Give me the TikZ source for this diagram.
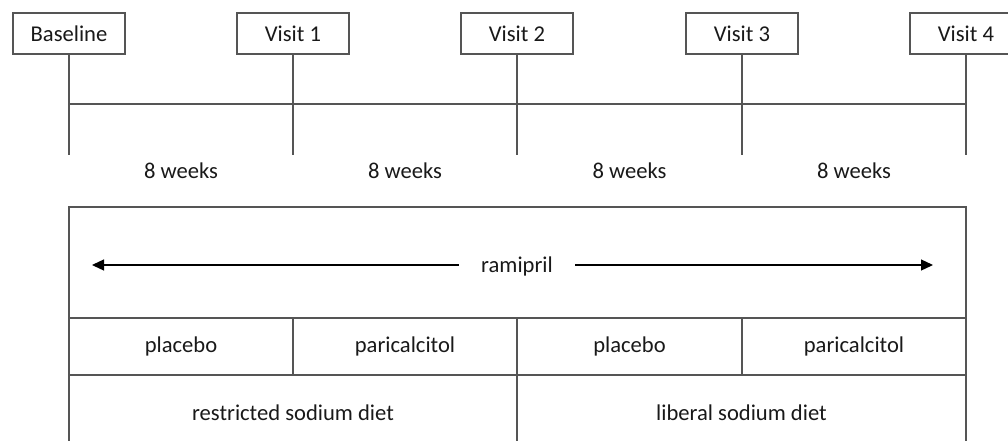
\documentclass[tikz,border=0pt]{standalone}
\usepackage{fontspec}
\setmainfont{Carlito}
\usepackage{tikz}
\usetikzlibrary{arrows.meta,positioning}
\definecolor{linegray}{RGB}{85,85,85}
\definecolor{textgray}{RGB}{25,25,25}
\tikzset{
    visitbox/.style={
        draw=linegray,
        line width=0.65pt,
        minimum width=56pt,
        minimum height=20.5pt,
        inner sep=0pt,
        text=textgray,
        font=\fontsize{11.3}{13}\selectfont
    },
    % cells of the treatment table
    cellbox/.style={
        draw=linegray,
        line width=0.65pt,
        inner sep=0pt,
        text=textgray,
        font=\fontsize{11.3}{13}\selectfont
    },
    timeline/.style={
        linegray,
        line width=0.65pt
    },
    ramiarrow/.style={
        line width=0.65pt,
        black,
        -{Triangle[length=6pt, width=5.5pt]}
    }
}

\begin{document}
\begin{tikzpicture}[x=0.5pt, y=-0.5pt]
	\useasboundingbox (0,0) rectangle (1008,440);
	\clip (0,0) rectangle (1008,440);

	\node[visitbox] (v0) at (69,33.5) {Baseline};
	\node[visitbox] (v1) at (293,33.5) {Visit 1};
	\node[visitbox] (v2) at (517,33.5) {Visit 2};
	\node[visitbox] (v3) at (742,33.5) {Visit 3};
	\node[visitbox] (v4) at (966,33.5) {Visit 4};

	\foreach \v in {v0,v1,v2,v3,v4}
		\draw[timeline] (\v.south) -- (\v.south |- 0,155);
	\draw[timeline] (v0.south |- 0,104) -- (v4.south |- 0,104);

	\node [cellbox, draw=none] (w1) at (181,171) {8 weeks};
	\node [cellbox, draw=none] (w2) at (405,171) {8 weeks};
	\node [cellbox, draw=none] (w3) at (629.5,171) {8 weeks};
	\node [cellbox, draw=none] (w4) at (854,171) {8 weeks};

	% ramipril over the whole period
	\node [cellbox, minimum width=448.5pt, minimum height=55.5pt] (top) at (517.5,262.5) {};
	\node [cellbox, draw=none, inner xsep=11pt] (rami) at (517,266) {ramipril};
	\coordinate (lefttip) at (92,265);
	\coordinate (righttip) at (933,265);
	\draw[ramiarrow] (rami.west |- lefttip) -- (lefttip);
	\draw[ramiarrow] (rami.east |- righttip) -- (righttip);

	\node [cellbox, minimum width=112pt, minimum height=28.5pt] (p1) at (181,346.5) {placebo};
	\node [cellbox, minimum width=112pt, minimum height=28.5pt] (c1) at (405,346.5) {paricalcitol};
	\node [cellbox, minimum width=112.5pt, minimum height=28.5pt] (p2) at (629.5,346.5) {placebo};
	\node [cellbox, minimum width=112pt, minimum height=28.5pt] (c2) at (854,346.5) {paricalcitol};

	\node [cellbox, minimum width=224pt, minimum height=37pt] (restr) at (293,412.5) {restricted sodium diet};
	\node [cellbox, minimum width=224.5pt, minimum height=37pt] (lib) at (741.5,412.5) {liberal sodium diet};
\end{tikzpicture}
\end{document}
